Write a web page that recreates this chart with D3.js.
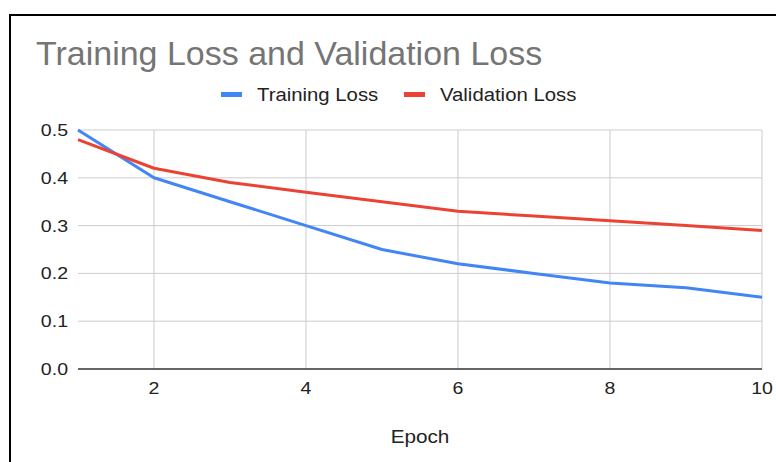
<!DOCTYPE html>
<html>
<head>
<meta charset="utf-8">
<script src="https://cdn.jsdelivr.net/npm/d3@7"></script>
<style>
  body { margin: 0; background: #fff; }
  svg { display: block; font-family: "Liberation Sans", Arial, sans-serif; }
</style>
</head>
<body>
<div id="chart"></div>
<script>
var epochs = [1, 2, 3, 4, 5, 6, 7, 8, 9, 10];
var trainingLoss = [0.50, 0.40, 0.35, 0.30, 0.25, 0.22, 0.20, 0.18, 0.17, 0.15];
var validationLoss = [0.48, 0.42, 0.39, 0.37, 0.35, 0.33, 0.32, 0.31, 0.30, 0.29];
var xTicks = [2, 4, 6, 8, 10];
var yTicks = [0, 0.1, 0.2, 0.3, 0.4, 0.5];
var seriesNames = ["Training Loss", "Validation Loss"];
var colors = ["#4285f4", "#ea4335"];

var width = 776, height = 462;
var margin = {left: 78, right: 14, top: 130, bottom: 93};

var svg = d3.select("#chart").append("svg")
    .attr("width", width)
    .attr("height", height);

// text in the screenshot is a bit wider than Arial, stretch it horizontally
function label(g, px, py, sx) {
    return g.append("text")
        .attr("transform", "translate(" + px + "," + py + ") scale(" + sx + ",1)");
}

// outer frame (cropped on right / bottom)
svg.append("rect")
    .attr("x", 10).attr("y", 15)
    .attr("width", 800).attr("height", 500)
    .attr("fill", "none")
    .attr("stroke", "#000")
    .attr("stroke-width", 2);

var x = d3.scaleLinear().domain([1, 10]).range([margin.left, width - margin.right]);
var y = d3.scaleLinear().domain([0, 0.5]).range([height - margin.bottom, margin.top]);

// grid
svg.append("g").selectAll("line")
    .data(yTicks.filter(d => d > 0))
    .enter().append("line")
    .attr("x1", x(1)).attr("x2", x(10))
    .attr("y1", d => y(d)).attr("y2", d => y(d))
    .attr("stroke", "#cccccc").attr("stroke-width", 1);

svg.append("g").selectAll("line")
    .data(xTicks)
    .enter().append("line")
    .attr("x1", d => x(d)).attr("x2", d => x(d))
    .attr("y1", y(0.5)).attr("y2", y(0))
    .attr("stroke", "#cccccc").attr("stroke-width", 1);

// y labels
var yl = svg.append("g");
yTicks.forEach(function (d) {
    label(yl, 68, y(d), 1.15)
        .attr("dy", "0.35em")
        .attr("text-anchor", "end")
        .attr("font-size", 17)
        .attr("fill", "#222")
        .text(d3.format(".1f")(d));
});

// x labels
var xl = svg.append("g");
xTicks.forEach(function (d) {
    label(xl, x(d), y(0) + 25, 1.15)
        .attr("text-anchor", "middle")
        .attr("font-size", 17)
        .attr("fill", "#222")
        .text(d);
});

// baseline
svg.append("line")
    .attr("x1", x(1)).attr("x2", x(10))
    .attr("y1", y(0)).attr("y2", y(0))
    .attr("stroke", "#333").attr("stroke-width", 1.5);

// lines
var line = d3.line()
    .x((d, i) => x(epochs[i]))
    .y(d => y(d));

[trainingLoss, validationLoss].forEach(function (s, i) {
    svg.append("path")
        .datum(s)
        .attr("d", line)
        .attr("fill", "none")
        .attr("stroke", colors[i])
        .attr("stroke-width", 3)
        .attr("stroke-linejoin", "round");
});

// title
label(svg, 36, 65, 1.03)
    .attr("font-size", 33)
    .attr("fill", "#757575")
    .text("Training Loss and Validation Loss");

// legend
var legendX = [221, 404];
seriesNames.forEach(function (name, i) {
    svg.append("rect")
        .attr("x", legendX[i]).attr("y", 92)
        .attr("width", 21).attr("height", 5)
        .attr("fill", colors[i]);
    label(svg, legendX[i] + 36, 94.5, 1.13)
        .attr("dy", "0.35em")
        .attr("font-size", 18)
        .attr("fill", "#222")
        .text(name);
});

// axis title
label(svg, (x(1) + x(10)) / 2, 443, 1.15)
    .attr("text-anchor", "middle")
    .attr("font-size", 18)
    .attr("fill", "#222")
    .text("Epoch");
</script>
</body>
</html>
